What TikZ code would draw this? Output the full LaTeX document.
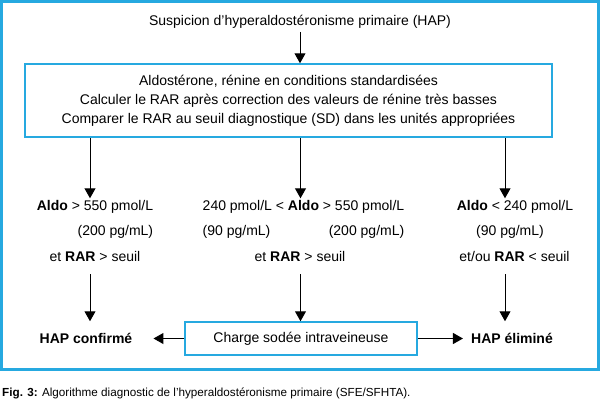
\documentclass[tikz,border=0pt]{standalone}
\usepackage{fontspec}
\setmainfont{Liberation Sans}
\usetikzlibrary{arrows.meta,positioning}
\definecolor{bleu}{RGB}{38,169,224}
\tikzset{
  boite/.style={draw=bleu, line width=1.5pt, align=center, inner sep=0pt},
  txt/.style={inner sep=1pt},
  fl/.style={-{Triangle[width=11pt,length=10pt]}, line width=1pt}
}
\begin{document}
\begin{tikzpicture}[x=1pt, y=-1pt, font=\fontsize{14}{19}\selectfont]
\useasboundingbox (0,0) rectangle (600,400);
% cadre general
\draw[bleu, line width=3pt] (1.5,1.5) rectangle (598.5,369.5);
\node[txt] (hap) at (300,22) {Suspicion d'hyperaldostéronisme primaire (HAP)};
\node[boite, minimum width=527pt, minimum height=73pt] (alg) at (288.5,100.5)
  {Aldostérone, rénine en conditions standardisées\\
   Calculer le RAR après correction des valeurs de rénine très basses\\
   Comparer le RAR au seuil diagnostique (SD) dans les unités appropriées};
% colonnes
\coordinate (cg) at (90,0);
\coordinate (cm) at (300.5,0);
\coordinate (cd) at (505,0);
% gauche
\node[txt] (g1) at (95,207) {\textbf{Aldo} > 550 pmol/L};
\node[txt, anchor=east] (g2) at (g1.east |- 0,232) {(200 pg/mL)};
\node[txt] (g3) at (95,256) {et \textbf{RAR} > seuil};
% milieu
\node[txt] (m1) at (303.5,207) {240 pmol/L < \textbf{Aldo} > 550 pmol/L};
\node[txt, anchor=west] (m2a) at (m1.west |- 0,232) {(90 pg/mL)};
\node[txt, anchor=east] (m2b) at (m1.east |- 0,232) {(200 pg/mL)};
\node[txt] (m3) at (300,256) {et \textbf{RAR} > seuil};
% droite
\node[txt] (d1) at (515,207) {\textbf{Aldo} < 240 pmol/L};
\node[txt] (d2) at (510,232) {(90 pg/mL)};
\node[txt] (d3) at (514.5,256) {et/ou \textbf{RAR} < seuil};
% bas
\node[boite, minimum width=232pt, minimum height=33pt] (charge) at (301,338.5) {Charge sodée intraveineuse};
\node[txt, font=\fontsize{14}{16}\selectfont\bfseries] (conf) at (86,338.5) {HAP confirmé};
\node[txt, font=\fontsize{14}{16}\selectfont\bfseries] (elim) at (512,338.5) {HAP éliminé};
% fleches
\draw[fl, shorten <=2pt] (hap.south) -- (hap.south |- alg.north);
\draw[fl, shorten >=1pt] (alg.south -| cg) -- (cg |- g1.north);
\draw[fl, shorten >=1pt] (alg.south -| cm) -- (cm |- m1.north);
\draw[fl, shorten >=1pt] (alg.south -| cd) -- (cd |- d1.north);
\draw[fl, shorten <=12pt] (cg |- g3.south) -- (cg |- charge.north);
\draw[fl, shorten <=12pt] (cm |- m3.south) -- (charge.north -| cm);
\draw[fl, shorten <=12pt] (cd |- d3.south) -- (cd |- charge.north);
\draw[fl, shorten >=20pt] (charge) -- (conf);
\draw[fl, shorten >=7pt] (charge) -- (elim);
% legende
\node[anchor=west, inner sep=0pt, font=\fontsize{11.7}{13}\selectfont] (leg) at (2,393)
  {\textbf{Fig. 3:} Algorithme diagnostic de l'hyperaldostéronisme primaire (SFE/SFHTA).};
\end{tikzpicture}
\end{document}
